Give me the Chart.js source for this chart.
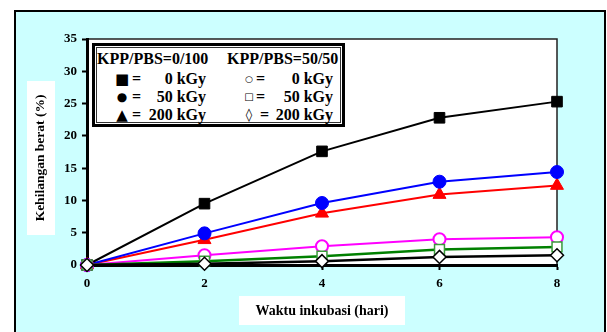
<!DOCTYPE html>
<html>
<head>
<meta charset="utf-8">
<script src="https://cdn.jsdelivr.net/npm/chart.js@4/dist/chart.umd.min.js"></script>
<style>
  html, body { margin: 0; padding: 0; background: #fff; }
  #wrap { position: relative; width: 607px; height: 332px; overflow: hidden; }
  canvas { position: absolute; left: 0; top: 0; }
  .lg { position: absolute; font: bold 16px "Liberation Serif", "Times New Roman", serif; color: #000; line-height: 18px; white-space: nowrap; }
  .sym { position: absolute; font-family: "DejaVu Sans", sans-serif; color: #000; line-height: 18px; height: 18px; transform: translateX(-50%); }
  #lgbox { position: absolute; left: 92px; top: 43px; width: 247px; height: 78px; border: 3px solid #000; background: #fff; box-shadow: inset 0 0 0 1px #fff, inset 0 0 0 2px #333; }
</style>
</head>
<body>
<div id="wrap">
  <canvas id="c" width="607" height="332"></canvas>
  <div id="lgbox"></div>
  <div id="legend"></div>
</div>
<script>
// ---- data ----
const days = [0, 2, 4, 6, 8];
const pbs100_0kGy   = [0, 9.5, 17.6, 22.8, 25.3];
const pbs100_50kGy  = [0, 4.9, 9.6, 12.9, 14.4];
const pbs100_200kGy = [0, 3.9, 8.0, 10.9, 12.3];
const pbs50_0kGy    = [0, 1.5, 2.9, 4.0, 4.3];
const pbs50_50kGy   = [0, 0.6, 1.35, 2.4, 2.8];
const pbs50_200kGy  = [0, 0.2, 0.6, 1.25, 1.5];
const yTicks = [0, 5, 10, 15, 20, 25, 30, 35];
const xTicks = [0, 2, 4, 6, 8];
const xTitle = "Waktu inkubasi (hari)";
const yTitle = "Kehilangan berat (%)";
const legendHeaders = ["KPP/PBS=0/100", "KPP/PBS=50/50"];
const legendCol1 = [["\u25A0", "0 kGy"], ["\u25CF", "50 kGy"], ["\u25B2", "200 kGy"]];
const legendCol2 = [["\u25CB", "0 kGy"], ["\u25A1", "50 kGy"], ["\u25CA", "200 kGy"]];

const pts = arr => days.map((d, i) => ({ x: d, y: arr[i] }));

// ---- legend (HTML text) ----
(function buildLegend() {
  const L = document.getElementById('legend');
  const add = (cls, txt, style) => {
    const s = document.createElement('span');
    s.className = cls; s.textContent = txt;
    Object.assign(s.style, style);
    L.appendChild(s);
  };
  add('lg', legendHeaders[0], { left: '97px', top: '50px' });
  add('lg', legendHeaders[1], { left: '227px', top: '50px' });
  const rows = [79, 97, 115];
  const symSize1 = ['15px', '12px', '15px'];
  const symSize2 = ['9px', '10px', '13px'];
  rows.forEach((cy, i) => {
    const top = (cy - 9) + 'px';
    add('sym', legendCol1[i][0], { left: '122px', top: top, fontSize: symSize1[i] });
    add('lg', '=', { left: '132px', top: top });
    add('lg', legendCol1[i][1], { right: (607 - 206) + 'px', top: top });
    add('sym', legendCol2[i][0], { left: '249px', top: top, fontSize: symSize2[i] });
    add('lg', '=', { left: i === 2 ? '260px' : '256px', top: top });
    add('lg', legendCol2[i][1], { right: (607 - 333) + 'px', top: top });
  });
})();

// ---- background / frame plugin ----
const framePlugin = {
  id: 'frame',
  beforeDraw(chart) {
    const { ctx, chartArea: a } = chart;
    ctx.save();
    ctx.fillStyle = '#ffffff';
    ctx.fillRect(0, 0, chart.width, chart.height);
    ctx.fillStyle = '#ccffff';
    ctx.fillRect(15, 10, 590, 340);
    ctx.strokeStyle = '#000';
    ctx.lineWidth = 2;
    ctx.strokeRect(15, 11, 590, 340);
    // plot area
    ctx.fillStyle = '#ffffff';
    ctx.fillRect(a.left, a.top, a.right - a.left, a.bottom - a.top);
    ctx.strokeStyle = '#222';
    ctx.lineWidth = 1.5;
    ctx.beginPath();
    ctx.moveTo(a.left, a.top);
    ctx.lineTo(a.right, a.top);
    ctx.lineTo(a.right, a.bottom);
    ctx.stroke();
    // title boxes
    ctx.fillStyle = '#ffffff';
    ctx.fillRect(27, 81, 28, 154);
    ctx.fillRect(239, 296, 166, 29);
    // titles
    ctx.fillStyle = '#000';
    ctx.font = 'bold 14px "Liberation Serif", "Times New Roman", serif';
    ctx.textAlign = 'center';
    ctx.textBaseline = 'middle';
    ctx.fillText(xTitle, 322, 311);
    ctx.font = 'bold 13.5px "Liberation Serif", "Times New Roman", serif';
    ctx.translate(41, 158);
    ctx.rotate(-Math.PI / 2);
    ctx.fillText(yTitle, 0, 0);
    ctx.restore();
  }
};

const tickFont = { family: '"Liberation Serif", "Times New Roman", serif', size: 13, weight: 'bold' };

const ds = (label, data, o) => Object.assign({
  label, data: pts(data), showLine: true, clip: false, tension: 0,
  borderWidth: 2, pointBorderWidth: 1, pointHoverRadius: 6
}, o);

new Chart(document.getElementById('c'), {
  type: 'scatter',
  data: {
    datasets: [
      ds('KPP/PBS=0/100, 0 kGy', pbs100_0kGy, { borderColor: '#000', backgroundColor: '#000', pointStyle: 'rect', pointRadius: 7.5, pointBackgroundColor: '#000', pointBorderColor: '#000', order: 3 }),
      ds('KPP/PBS=0/100, 50 kGy', pbs100_50kGy, { borderColor: '#0000ff', backgroundColor: '#0000ff', pointStyle: 'circle', pointRadius: 6.5, pointBackgroundColor: '#0000ff', pointBorderColor: '#0000ff', order: 4 }),
      ds('KPP/PBS=0/100, 200 kGy', pbs100_200kGy, { borderColor: '#ff0000', backgroundColor: '#ff0000', pointStyle: 'triangle', pointRadius: 7.5, pointBackgroundColor: '#ff0000', pointBorderColor: '#ff0000', order: 5 }),
      ds('KPP/PBS=50/50, 0 kGy', pbs50_0kGy, { borderColor: '#ff00ff', backgroundColor: '#fff', pointStyle: 'circle', pointRadius: 6, pointBackgroundColor: '#ffffff', pointBorderColor: '#ff00ff', pointBorderWidth: 2, order: 2 }),
      ds('KPP/PBS=50/50, 50 kGy', pbs50_50kGy, { borderColor: '#008000', backgroundColor: '#fff', borderWidth: 2.5, pointStyle: 'rect', pointRadius: 7, pointBackgroundColor: '#ffffff', pointBorderColor: '#3a9a3a', pointBorderWidth: 1.5, order: 1 }),
      ds('KPP/PBS=50/50, 200 kGy', pbs50_200kGy, { borderColor: '#000', backgroundColor: '#fff', borderWidth: 2.5, pointStyle: 'rectRot', pointRadius: 6.5, pointBackgroundColor: '#ffffff', pointBorderColor: '#000', pointBorderWidth: 1.5, order: 0 })
    ]
  },
  options: {
    responsive: false,
    animation: false,
    devicePixelRatio: 1,
    layout: { padding: { left: 0, right: 50, top: 39, bottom: 0 } },
    plugins: { legend: { display: false }, tooltip: { enabled: false } },
    scales: {
      x: {
        type: 'linear', min: 0, max: 8,
        afterFit(s) { s.height = 67; },
        afterBuildTicks(s) { s.ticks = xTicks.map(v => ({ value: v })); },
        ticks: { font: tickFont, color: '#000', padding: 6, maxRotation: 0 },
        grid: { display: true, drawOnChartArea: false, drawTicks: true, tickLength: 5, tickWidth: 2, tickColor: '#000' },
        border: { display: true, width: 3, color: '#000' }
      },
      y: {
        type: 'linear', min: 0, max: 35,
        afterFit(s) { s.width = 87; },
        afterBuildTicks(s) { s.ticks = yTicks.map(v => ({ value: v })); },
        ticks: { font: tickFont, color: '#000', padding: 5 },
        grid: { display: true, drawOnChartArea: false, drawTicks: true, tickLength: 5, tickWidth: 2, tickColor: '#000' },
        border: { display: true, width: 3, color: '#000' }
      }
    }
  },
  plugins: [framePlugin]
});
</script>
</body>
</html>
